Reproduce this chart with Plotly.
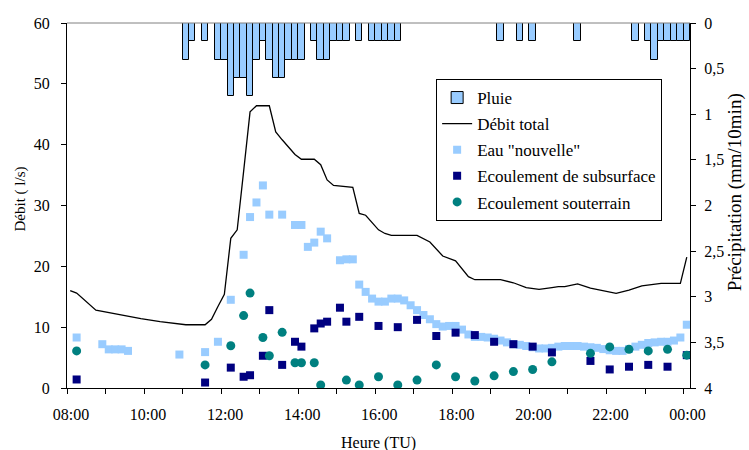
import plotly.graph_objects as go

# ---------------- data ----------------
rain_times = ["11:05", "11:15", "11:35", "11:55", "12:05", "12:15", "12:25", "12:35", "12:45",
              "12:55", "13:05", "13:15", "13:25", "13:35", "13:45", "13:55", "14:05", "14:25",
              "14:35", "14:45", "14:55", "15:05", "15:15", "15:35", "15:55", "16:05", "16:15",
              "16:25", "16:35", "19:15", "19:45", "20:05", "21:15", "22:45", "23:05", "23:15",
              "23:25", "23:35", "23:45", "23:55", "00:05"]
rain_mm = [0.4, 0.2, 0.2, 0.4, 0.4, 0.8, 0.6, 0.6, 0.8,
           0.4, 0.2, 0.4, 0.6, 0.6, 0.4, 0.4, 0.4, 0.2,
           0.4, 0.4, 0.2, 0.2, 0.2, 0.2, 0.2, 0.2, 0.2,
           0.2, 0.2, 0.2, 0.2, 0.2, 0.2, 0.2, 0.2, 0.4,
           0.2, 0.2, 0.2, 0.2, 0.2]

total_times = ["08:05", "08:15", "08:45", "09:05", "09:25", "09:35", "09:55", "10:25", "10:45",
               "11:05", "11:35", "11:45", "11:55", "12:05", "12:15", "12:25", "12:35", "12:45",
               "12:55", "13:15", "13:25", "13:35", "13:55", "14:05", "14:25", "14:35", "14:45",
               "14:55", "15:25", "15:35", "15:45", "15:55", "16:05", "16:15", "16:25", "17:05",
               "17:15", "17:25", "17:45", "18:05", "18:25", "18:35", "19:15", "19:35", "19:55",
               "20:05", "20:15", "20:35", "20:45", "20:55", "21:15", "21:35", "22:15", "22:35",
               "22:55", "23:25", "23:55", "00:05"]
total_flow = [16.0, 15.6, 12.8, 12.4, 11.9, 11.8, 11.4, 10.9, 10.7,
              10.4, 10.4, 11.3, 13.4, 15.4, 24.6, 26.0, 35.6, 45.4,
              46.4, 46.4, 42.1, 40.8, 38.4, 37.6, 37.6, 36.7, 34.2,
              33.3, 33.0, 28.7, 28.4, 27.2, 26.0, 25.4, 25.1, 25.1,
              24.6, 24.0, 21.7, 20.9, 18.3, 17.8, 17.8, 17.3, 16.5,
              16.3, 16.2, 16.5, 16.65, 16.65, 17.1, 16.4, 15.55, 16.1,
              16.8, 17.2, 17.2, 21.5]

new_times = ["08:15", "08:55", "09:05", "09:15", "09:25", "09:35", "10:55", "11:35", "11:55",
             "12:15", "12:35", "12:45", "12:55", "13:05", "13:15", "13:35", "13:55", "14:05",
             "14:15", "14:25", "14:35", "14:45", "15:05", "15:15", "15:25",
             "15:35", "15:45", "15:55", "16:05", "16:15", "16:25", "16:35", "16:45", "16:55",
             "17:05", "17:15", "17:25", "17:35", "17:45", "17:55", "18:05", "18:15", "18:25",
             "18:35", "18:45", "18:55", "19:05", "19:15", "19:25", "19:35", "19:45", "19:55",
             "20:05", "20:15", "20:25", "20:35", "20:45", "20:55", "21:05", "21:15", "21:25",
             "21:35", "21:45", "21:55", "22:05", "22:15", "22:25", "22:35", "22:45", "22:55",
             "23:05", "23:15", "23:25", "23:35", "23:45", "23:55", "00:05"]
new_water = [8.3, 7.2, 6.35, 6.35, 6.35, 6.1, 5.5, 5.9, 7.6,
             14.5, 21.9, 28.1, 30.5, 33.3, 28.5, 28.5, 26.8, 26.8,
             23.2, 23.9, 25.7, 24.6, 21.0, 21.15, 21.15,
             17.0, 15.8, 14.7, 14.2, 14.2, 14.7, 14.7, 14.4, 13.6,
             12.8, 12.0, 11.3, 10.5, 10.1, 10.2, 10.2, 9.6, 8.8,
             8.4, 8.4, 8.3, 8.1, 7.8, 7.5, 7.2, 7.1, 6.9,
             6.7, 6.5, 6.5, 6.6, 6.8, 6.9, 6.9, 6.9, 6.8,
             6.7, 6.6, 6.4, 6.2, 6.1, 6.1, 6.4, 6.8, 7.1,
             7.4, 7.5, 7.6, 7.6, 7.8, 8.3, 10.4]

sub_times = ["08:15", "11:35", "12:15", "12:35", "12:45", "13:05", "13:15", "13:35", "13:55",
             "14:05", "14:25", "14:35", "14:45", "15:05", "15:15", "15:35", "16:05", "16:35",
             "17:05", "17:35", "18:05", "18:35", "19:05", "19:35", "20:05", "20:35", "21:35",
             "22:05", "22:35", "23:05", "23:35", "00:05"]
sub_flow = [1.4, 0.9, 3.35, 1.85, 2.1, 5.3, 12.8, 3.8, 7.6,
            6.8, 9.8, 10.6, 10.9, 13.2, 10.9, 11.7, 10.2, 10.0,
            11.2, 8.55, 9.1, 8.7, 7.6, 7.2, 6.8, 5.85, 4.45,
            3.05, 3.5, 3.8, 3.5, 5.4]

gw_times = ["08:15", "11:35", "12:15", "12:35", "12:45", "13:05", "13:15", "13:35", "13:55",
            "14:05", "14:25", "14:35", "15:15", "15:35", "16:05", "16:35", "17:05", "17:35",
            "18:05", "18:35", "19:05", "19:35", "20:05", "20:35", "21:35", "22:05", "22:35",
            "23:05", "23:35", "00:05"]
gw_flow = [6.1, 3.8, 6.95, 11.9, 15.6, 8.3, 5.3, 9.15, 4.15,
           4.15, 4.15, 0.5, 1.3, 0.5, 1.85, 0.5, 1.3, 3.8,
           1.85, 1.15, 2.0, 2.7, 3.05, 4.3, 5.7, 6.75, 6.35,
           6.1, 6.35, 5.4]

x_tick_vals = [8, 10, 12, 14, 16, 18, 20, 22, 24]
x_tick_text = ["08:00", "10:00", "12:00", "14:00", "16:00", "18:00", "20:00", "22:00", "00:00"]
y_tick_vals = [0, 10, 20, 30, 40, 50, 60]
y2_tick_vals = [0, 0.5, 1, 1.5, 2, 2.5, 3, 3.5, 4]
y2_tick_text = ["0", "0,5", "1", "1,5", "2", "2,5", "3", "3,5", "4"]


def to_hours(s):
    h, m = s.split(":")
    h = int(h)
    if h < 8:
        h += 24
    return h + int(m) / 60.0


def hours(lst):
    return [to_hours(s) for s in lst]


FONT = "'Liberation Serif', 'Times New Roman', 'DejaVu Serif', serif"

fig = go.Figure()

fig.add_trace(go.Bar(
    x=hours(rain_times), y=rain_mm, width=1 / 6, yaxis="y2", name="Pluie",
    marker=dict(color="#99CCFF", line=dict(color="black", width=1)),
    legendgroup="a",
))
fig.add_trace(go.Scatter(
    x=hours(total_times), y=total_flow, mode="lines", name="Débit total",
    line=dict(color="black", width=1.3), legendgroup="b",
))
fig.add_trace(go.Scatter(
    x=hours(new_times), y=new_water, mode="markers", name='Eau "nouvelle"',
    marker=dict(symbol="square", size=8, color="#99CCFF"), legendgroup="c",
))
fig.add_trace(go.Scatter(
    x=hours(sub_times), y=sub_flow, mode="markers", name="Ecoulement de subsurface",
    marker=dict(symbol="square", size=8, color="#000080"), legendgroup="d",
))
fig.add_trace(go.Scatter(
    x=hours(gw_times), y=gw_flow, mode="markers", name="Ecoulement souterrain",
    marker=dict(symbol="circle", size=9, color="#008080"), legendgroup="e",
))

fig.update_layout(
    width=749, height=450,
    margin=dict(l=67, r=59, t=23, b=62, autoexpand=False),
    paper_bgcolor="white", plot_bgcolor="white",
    font=dict(family=FONT, size=16, color="black"),
    showlegend=True,
    bargap=0,
    xaxis=dict(
        range=[8, 24 + 1 / 6], tickvals=x_tick_vals, ticktext=x_tick_text,
        ticks="outside", ticklen=5, tickcolor="black", tickwidth=1,
        showline=True, linecolor="black", linewidth=1, showgrid=False, zeroline=False,
        minor=dict(dtick=1, tick0=8, ticks="outside", ticklen=5, tickcolor="black", showgrid=False),
        ticklabelshift=4, ticklabelstandoff=7, automargin=False,
        tickfont=dict(family=FONT, size=16),
    ),
    yaxis=dict(
        range=[0, 60], tickvals=y_tick_vals,
        ticks="outside", ticklen=5, tickcolor="black",
        showline=True, linecolor="black", linewidth=1, showgrid=False, zeroline=False,
        tickfont=dict(family=FONT, size=16), ticklabelstandoff=8, automargin=False,
    ),
    yaxis2=dict(
        range=[4, 0], overlaying="y", side="right", tickvals=y2_tick_vals, ticktext=y2_tick_text,
        ticks="outside", ticklen=5, tickcolor="black",
        showline=True, linecolor="black", linewidth=1, showgrid=False, zeroline=False,
        tickfont=dict(family=FONT, size=16), ticklabelstandoff=5, automargin=False,
    ),
    legend=dict(
        x=0.5925, y=0.8466, xanchor="left", yanchor="top",
        bgcolor="white", bordercolor="black", borderwidth=1,
        font=dict(family=FONT, size=17), tracegroupgap=1,
        itemwidth=30,
    ),
    shapes=[dict(type="line", xref="paper", yref="paper", x0=0, x1=1, y0=1, y1=1,
                 line=dict(color="#808080", width=1))],
    annotations=[
        dict(text="Heure (TU)", xref="paper", yref="paper", x=0.5, y=-0.151,
             xanchor="center", yanchor="middle", showarrow=False,
             font=dict(family=FONT, size=16)),
        dict(text="Débit ( l/s)", xref="paper", yref="paper", x=-0.0745, y=0.518,
             xanchor="center", yanchor="middle", showarrow=False, textangle=-90,
             font=dict(family=FONT, size=15)),
        dict(text="Précipitation (mm/10min)", xref="paper", yref="paper", x=1.0725, y=0.537,
             xanchor="center", yanchor="middle", showarrow=False, textangle=-90,
             font=dict(family=FONT, size=19)),
    ],
)

fig.write_html("out.html")
